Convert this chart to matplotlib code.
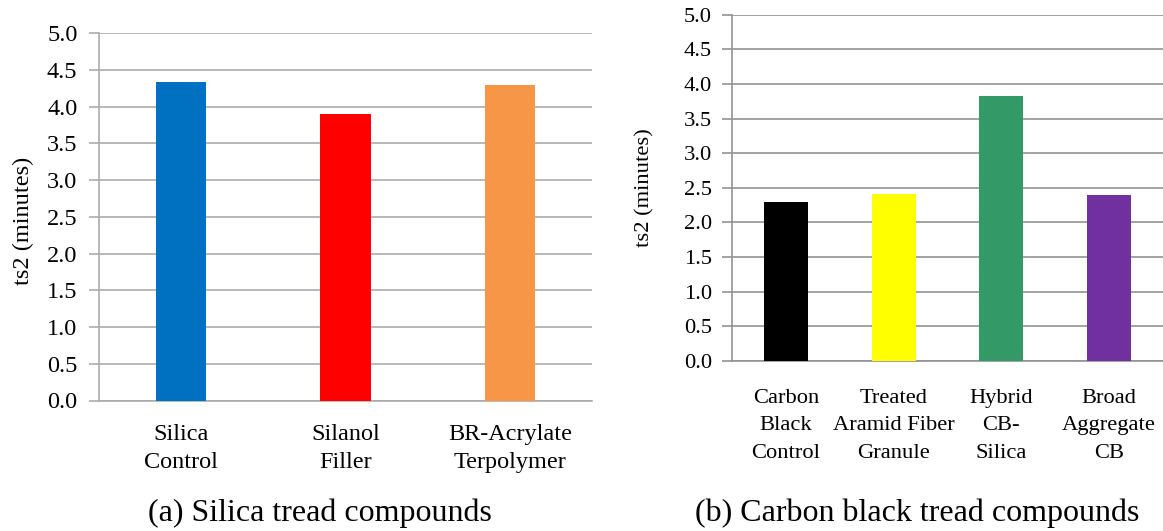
import matplotlib
matplotlib.use("Agg")
import matplotlib.pyplot as plt

plt.rcParams['font.family'] = ['Liberation Serif', 'DejaVu Serif']

# Data
cats_a = ["Silica\nControl", "Silanol\nFiller", "BR-Acrylate\nTerpolymer"]
vals_a = [4.34, 3.90, 4.30]
cols_a = ["#0070C0", "#FF0000", "#F79646"]

cats_b = ["Carbon\nBlack\nControl", "Treated\nAramid Fiber\nGranule", "Hybrid\nCB-\nSilica", "Broad\nAggregate\nCB"]
vals_b = [2.30, 2.41, 3.82, 2.40]
cols_b = ["#000000", "#FFFF00", "#339966", "#7030A0"]

yticks = [0.0, 0.5, 1.0, 1.5, 2.0, 2.5, 3.0, 3.5, 4.0, 4.5, 5.0]
ylabel = "ts2 (minutes)"
cap_a = "(a) Silica tread compounds"
cap_b = "(b) Carbon black tread compounds"

W, H = 1163, 531
fig = plt.figure(figsize=(W / 100, H / 100), dpi=100)

def px_axes(x0, x1, ytop, ybot):
    return fig.add_axes([x0 / W, 1 - ybot / H, (x1 - x0) / W, (ybot - ytop) / H])

ax1 = px_axes(99, 592, 33.3, 400.5)
ax2 = px_axes(732, 1163, 14.7, 361)

def style(ax, cats, vals, cols, width, lab_xy, pad_y, pad_x, fs, gcol, ls):
    x = list(range(len(cats)))
    ax.set_axisbelow(True)
    ax.bar(x, vals, width=width, color=cols, zorder=3)
    ax.set_xlim(-0.5, len(cats) - 0.5)
    ax.set_ylim(0, 5.0)
    ax.set_yticks(yticks)
    ax.set_yticklabels([f"{v:.1f}" for v in yticks], fontsize=fs)
    ax.set_xticks(x)
    ax.set_xticklabels(cats, fontsize=fs, linespacing=ls)
    ax.tick_params(axis='x', length=0, pad=pad_x)
    ax.tick_params(axis='y', length=7.5, width=1.2, color=gcol, direction='out', pad=pad_y)
    ax.yaxis.grid(True, color=gcol, linewidth=1.2)
    for s in ['top', 'right']:
        ax.spines[s].set_visible(False)
    for s in ['left', 'bottom']:
        ax.spines[s].set_color(gcol)
        ax.spines[s].set_linewidth(1.2)
    ax.set_ylabel(ylabel, fontsize=fs)
    ax.yaxis.set_label_coords(*lab_xy)

style(ax1, cats_a, vals_a, cols_a, 0.305, (-0.132, 0.49), 8, 17, 17.5, "#ABABAB", 1.42)
style(ax2, cats_b, vals_b, cols_b, 0.41, (-0.181, 0.50), 7, 20, 16.2, "#929292", 1.62)

fig.text(319.5 / W, 1 - 513 / H, cap_a, fontsize=23, ha='center', va='center')
fig.text(917 / W, 1 - 513 / H, cap_b, fontsize=23, ha='center', va='center')

fig.savefig("out.png", dpi=100, facecolor="white")
